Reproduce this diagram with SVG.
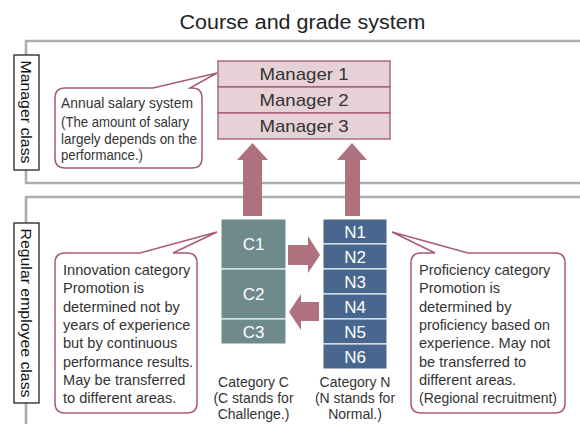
<svg xmlns="http://www.w3.org/2000/svg" width="580" height="424" viewBox="0 0 580 424">
<style>
.sec{fill:none;stroke:#adadad;stroke-width:2.6}
.lbl{fill:#fff;stroke:#111;stroke-width:1.2}
.lt{font-family:"Liberation Sans",Arial,sans-serif;font-size:15px;fill:#111}
.mg{fill:#e6d1d6;stroke:#a5566f;stroke-width:1.3}
.mt{font-family:"Liberation Sans",Arial,sans-serif;font-size:17px;fill:#333;text-anchor:middle}
.call{fill:#fff;stroke:#a85a76;stroke-width:1.5}
.ct{font-family:"Liberation Sans",Arial,sans-serif;font-size:14.6px;fill:#333}
.cc{fill:#6f8a8d;stroke:#fff;stroke-width:1}
.nn{fill:#48668e;stroke:#fff;stroke-width:1}
.bt{font-family:"Liberation Sans",Arial,sans-serif;font-size:17px;fill:#fff;text-anchor:middle}
.arr{fill:#b0717f}
.cat{font-family:"Liberation Sans",Arial,sans-serif;font-size:14px;fill:#333;text-anchor:middle}
</style>
<rect width="580" height="424" fill="#fff"/>
<text x="302.5" y="29" font-family="Liberation Sans,Arial,sans-serif" font-size="20" fill="#222" text-anchor="middle" textLength="246" lengthAdjust="spacingAndGlyphs">Course and grade system</text>

<g id="manager-section">
<path class="sec" d="M600,41 H26 V183 H600"/>
</g>
<g id="regular-section">
<path class="sec" d="M600,197 H26 V440"/>
</g>

<g id="manager-class-label">
<rect class="lbl" x="14" y="55" width="25" height="115"/>
<text class="lt" transform="translate(21,112) rotate(90)" text-anchor="middle" textLength="103" lengthAdjust="spacingAndGlyphs">Manager class</text>
</g>
<g id="regular-class-label">
<rect class="lbl" x="14" y="223" width="25" height="180"/>
<text class="lt" transform="translate(21,313) rotate(90)" text-anchor="middle" textLength="169" lengthAdjust="spacingAndGlyphs">Regular employee class</text>
</g>

<g id="connectors">
<path class="arr" d="M243,216 V160 H237 L252.5,143 L268,160 H262 V216 Z"/>
<path class="arr" d="M345,216 V160 H337 L352,143 L367,160 H360 V216 Z"/>
<path class="arr" d="M288,245 H308 V236 L320,255 L308,273 V265 H288 Z"/>
<path class="arr" d="M319,302 H301 V294 L289,312 L301,330 V321 H319 Z"/>
</g>

<g id="manager-grades">
<rect class="mg" x="218" y="61" width="172" height="26"/>
<rect class="mg" x="218" y="87" width="172" height="26"/>
<rect class="mg" x="218" y="113" width="172" height="26"/>
<text class="mt" x="304" y="80" textLength="89" lengthAdjust="spacingAndGlyphs">Manager 1</text>
<text class="mt" x="304" y="106" textLength="89" lengthAdjust="spacingAndGlyphs">Manager 2</text>
<text class="mt" x="304" y="132" textLength="89" lengthAdjust="spacingAndGlyphs">Manager 3</text>
</g>

<g id="annual-callout">
<path class="call" d="M65,88 H153 L217,73 L190,88 H192 Q202,88 202,98 V158 Q202,168 192,168 H65 Q55,168 55,158 V98 Q55,88 65,88 Z"/>
<text class="ct" x="61" y="108" textLength="132" lengthAdjust="spacingAndGlyphs">Annual salary system</text>
<text class="ct" x="61" y="127" textLength="128" lengthAdjust="spacingAndGlyphs">(The amount of salary</text>
<text class="ct" x="61" y="143.5" textLength="136" lengthAdjust="spacingAndGlyphs">largely depends on the</text>
<text class="ct" x="61" y="160" textLength="82" lengthAdjust="spacingAndGlyphs">performance.)</text>
</g>

<g id="category-c">
<rect class="cc" x="221" y="219" width="65" height="50"/>
<rect class="cc" x="221" y="269" width="65" height="50"/>
<rect class="cc" x="221" y="319" width="65" height="25"/>
<text class="bt" x="253.5" y="250">C1</text>
<text class="bt" x="253.5" y="300">C2</text>
<text class="bt" x="253.5" y="338">C3</text>
<text class="cat" x="253.5" y="387">Category C</text>
<text class="cat" x="253.5" y="403">(C stands for</text>
<text class="cat" x="253.5" y="419">Challenge.)</text>
</g>

<g id="category-n">
<rect class="nn" x="323" y="219" width="64" height="25"/>
<rect class="nn" x="323" y="244" width="64" height="25"/>
<rect class="nn" x="323" y="269" width="64" height="25"/>
<rect class="nn" x="323" y="294" width="64" height="25"/>
<rect class="nn" x="323" y="319" width="64" height="25"/>
<rect class="nn" x="323" y="344" width="64" height="25"/>
<text class="bt" x="355" y="238">N1</text>
<text class="bt" x="355" y="263">N2</text>
<text class="bt" x="355" y="288">N3</text>
<text class="bt" x="355" y="313">N4</text>
<text class="bt" x="355" y="338">N5</text>
<text class="bt" x="355" y="363">N6</text>
<text class="cat" x="355" y="387">Category N</text>
<text class="cat" x="355" y="403">(N stands for</text>
<text class="cat" x="355" y="419">Normal.)</text>
</g>

<g id="innovation-callout">
<path class="call" d="M65,253 H140 L217,232 L173,253 H187 Q197,253 197,263 V403 Q197,413 187,413 H65 Q55,413 55,403 V263 Q55,253 65,253 Z"/>
<text class="ct" x="63" y="275">Innovation category</text>
<text class="ct" x="63" y="293.3">Promotion is</text>
<text class="ct" x="63" y="311.6">determined not by</text>
<text class="ct" x="63" y="330">years of experience</text>
<text class="ct" x="63" y="348.3">but by continuous</text>
<text class="ct" x="63" y="366.6" textLength="130" lengthAdjust="spacingAndGlyphs">performance results.</text>
<text class="ct" x="63" y="385">May be transferred</text>
<text class="ct" x="63" y="403.3">to different areas.</text>
</g>

<g id="proficiency-callout">
<path class="call" d="M421,253 H435 L392,232 L468,253 H555 Q565,253 565,263 V403 Q565,413 555,413 H421 Q411,413 411,403 V263 Q411,253 421,253 Z"/>
<text class="ct" x="419" y="275">Proficiency category</text>
<text class="ct" x="419" y="293.3">Promotion is</text>
<text class="ct" x="419" y="311.6">determined by</text>
<text class="ct" x="419" y="330" textLength="131" lengthAdjust="spacingAndGlyphs">proficiency based on</text>
<text class="ct" x="419" y="348.3">experience. May not</text>
<text class="ct" x="419" y="366.6">be transferred to</text>
<text class="ct" x="419" y="385">different areas.</text>
<text class="ct" x="419" y="403.3" textLength="138" lengthAdjust="spacingAndGlyphs">(Regional recruitment)</text>
</g>
</svg>
